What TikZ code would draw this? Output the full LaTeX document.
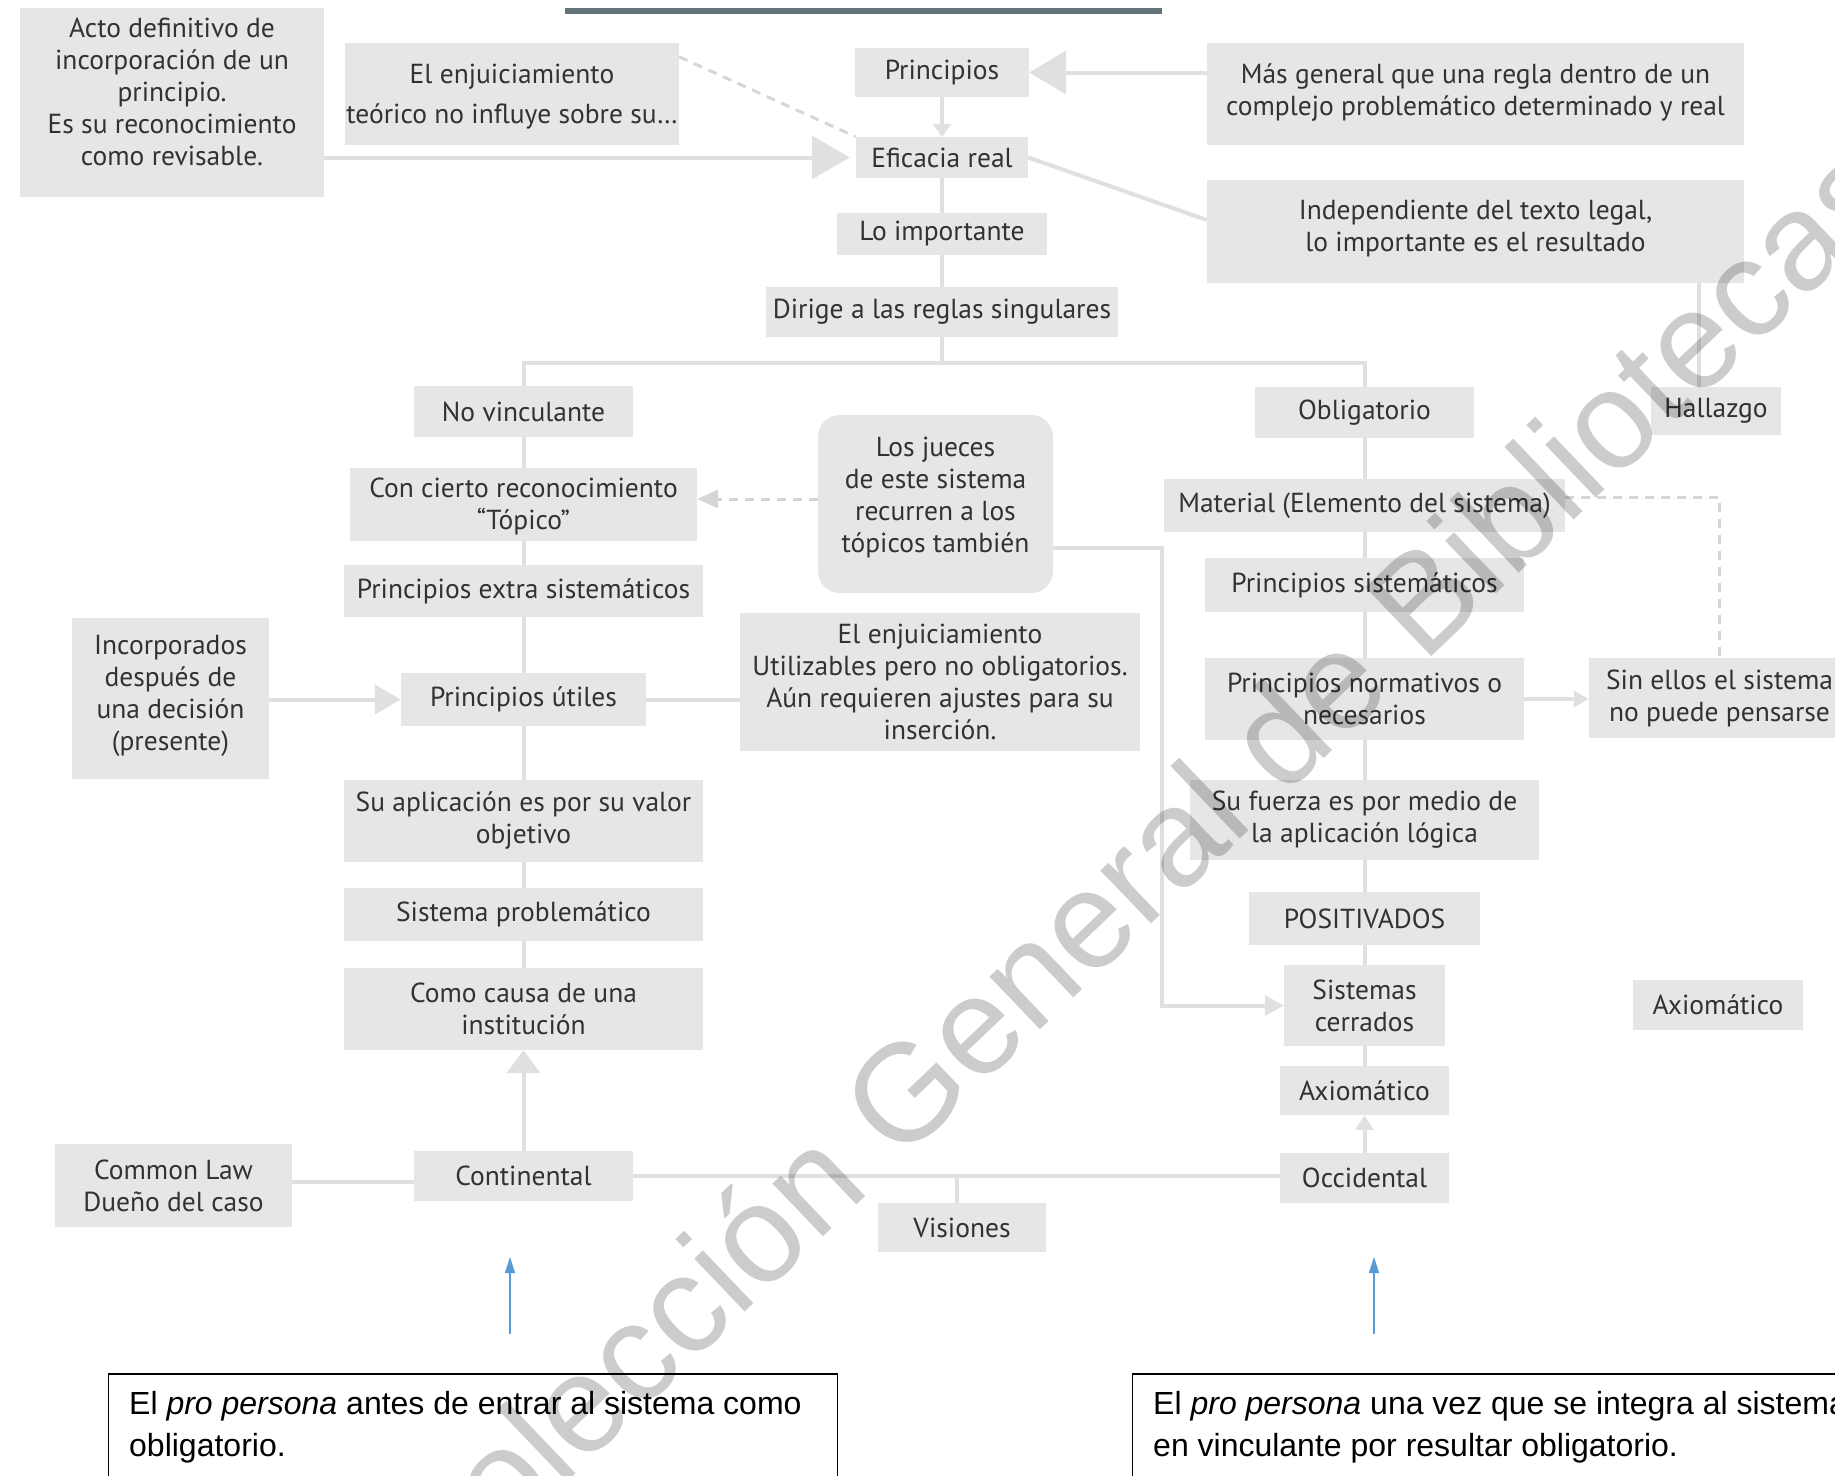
\documentclass[tikz,border=0pt]{standalone}
\usepackage{fontspec}
\setmainfont{PT Sans}
\newfontfamily\notefont{Liberation Sans}
\newfontfamily\markfont{Liberation Sans}
\usetikzlibrary{arrows.meta,calc}

\definecolor{boxgray}{RGB}{230,230,230}
\definecolor{linegray}{RGB}{224,224,224}
\definecolor{dashgray}{RGB}{214,214,214}
\definecolor{inkgray}{RGB}{50,50,50}
\definecolor{barcol}{RGB}{98,116,120}
\definecolor{bluec}{RGB}{91,155,213}

% grey concept box given by its corners, with its text (optional vertical shift)
\newcommand\mapbox[7][0]{%
  \node[gfill, minimum width={(#5-#3)*1pt}, minimum height={(#6-#4)*1pt}] (#2) at ({(#3+#5)/2},{(#4+#6)/2}) {};
  \node[gtext] (#2-t) at ({(#3+#5)/2},{(#4+#6)/2+#1}) {#7};
}

\begin{document}
\begin{tikzpicture}[x=1pt,y=-1pt,
  gfill/.style={rectangle, fill=boxgray, draw=none, inner sep=0pt},
  gtext/.style={text=inkgray, align=center, inner sep=0pt, font=\fontsize{27.5}{32}\selectfont},
  conn/.style={draw=linegray, line width=4pt},
  dconn/.style={draw=dashgray, line width=3pt, dash pattern=on 9pt off 7pt},
  bluearrow/.style={draw=bluec, line width=1.4pt, -{Triangle[length=16pt,width=10pt]}},
  notebox/.style={rectangle, draw=black, line width=1.3pt, fill=white, inner sep=0pt, anchor=north west},
  notetext/.style={text=black, align=left, inner sep=0pt, anchor=north west, font=\notefont\fontsize{32}{42}\selectfont},
  watermark/.style={text=black, text opacity=0.2, inner sep=0pt, anchor=base, rotate=43.7, font=\markfont\fontsize{138.5}{140}\selectfont}
]
\useasboundingbox (0,0) rectangle (1835,1475);
\clip (0,0) rectangle (1835,1475);
\fill[white] (0,0) rectangle (1835,1475);

% title bar
\fill[barcol] (565,8) rectangle (1162,14);

% ---- top block ----
\mapbox[-11]{acto}{20}{8}{324}{197}{Acto definitivo de\\incorporación de un\\principio.\\Es su reconocimiento\\como revisable.}
\mapbox[3]{enj}{345}{43}{679}{145}{El enjuiciamiento\\[8pt]teórico no influye sobre su…}
\mapbox{prin}{855}{48}{1029}{97}{Principios}
\mapbox{efi}{856}{137}{1028}{178}{Eficacia real}
\mapbox{imp}{837}{213}{1047}{255}{Lo importante}
\mapbox{dir}{766}{287}{1118}{337}{Dirige a las reglas singulares}
\mapbox[-1]{mas}{1207}{43}{1744}{145}{Más general que una regla dentro de un\\complejo problemático determinado y real}
\mapbox[-3]{ind}{1207}{180}{1744}{283}{Independiente del texto legal,\\lo importante es el resultado}

% ---- left column ----
\mapbox{nov}{414}{386}{633}{437}{No vinculante}
\mapbox[2]{con}{350}{468}{697}{541}{Con cierto reconocimiento\\“Tópico”}
\mapbox{ext}{344}{565}{703}{617}{Principios extra sistemáticos}
\mapbox{uti}{401}{673}{646}{726}{Principios útiles}
\mapbox[-3]{inc}{72}{618}{269}{779}{Incorporados\\después de\\una decisión\\(presente)}
\mapbox{apl}{344}{780}{703}{862}{Su aplicación es por su valor\\objetivo}
\mapbox{pro}{344}{888}{703}{941}{Sistema problemático}
\mapbox{cau}{344}{968}{703}{1050}{Como causa de una\\institución}
\mapbox{cont}{414}{1151}{633}{1201}{Continental}
\mapbox{cl}{55}{1144}{292}{1227}{Common Law\\Dueño del caso}

% ---- middle ----
\node[gfill, rounded corners=22pt, minimum width=235pt, minimum height=178pt] (jue) at (935.5,504) {};
\node[gtext] (jue-t) at (935.5,498) {Los jueces\\de este sistema\\recurren a los\\tópicos también};
\mapbox{utz}{740}{613}{1140}{751}{El enjuiciamiento\\Utilizables pero no obligatorios.\\Aún requieren ajustes para su\\inserción.}
\mapbox{vis}{878}{1203}{1046}{1252}{Visiones}

% ---- right column ----
\mapbox{obl}{1255}{387}{1474}{438}{Obligatorio}
\mapbox{hal}{1651}{387}{1781}{435}{Hallazgo}
\mapbox{mat}{1164}{479}{1565}{532}{Material (Elemento del sistema)}
\mapbox{sis}{1205}{558}{1524}{612}{Principios sistemáticos}
\mapbox{nor}{1205}{658}{1524}{740}{Principios normativos o\\necesarios}
\mapbox{sin}{1589}{658}{1850}{738}{Sin ellos el sistema\\no puede pensarse}
\mapbox{fue}{1190}{780}{1539}{860}{Su fuerza es por medio de\\la aplicación lógica}
\mapbox{pos}{1249}{892}{1480}{945}{POSITIVADOS}
\mapbox{cer}{1284}{965}{1445}{1046}{Sistemas\\cerrados}
\mapbox{axi}{1280}{1066}{1449}{1115}{Axiomático}
\mapbox{occ}{1280}{1153}{1449}{1203}{Occidental}
\mapbox{axr}{1633}{980}{1803}{1030}{Axiomático}

% ---- connectors: top ----
\draw[conn, -{Triangle[length=37pt,width=43pt]}] (mas.west |- prin.east) -- (prin.east);
\draw[conn, -{Triangle[length=13pt,width=18pt]}] (prin.south) -- (efi.north);
\draw[conn, -{Triangle[length=38pt,width=43pt]}] (acto.east |- efi.west) -- ([xshift=-6pt]efi.west);
\draw[dconn] ([yshift=-14pt]enj.north east) -- (efi.north west);
\draw[conn] (efi.east) -- ([yshift=11.5pt]ind.west);
\draw[conn] (efi.south) -- (imp.north);
\draw[conn] (imp.south) -- (dir.north);
\draw[conn] ([xshift=-17pt]hal.north) -- ([xshift=-17pt]hal.north |- ind.south);

% split into the two branches
\coordinate (split) at (942,363);
\draw[conn] (dir.south) -- (split);
\draw[conn] (nov.north) |- (split) -| (obl.north);

% ---- connectors: left column ----
\draw[conn] (nov.south) -- (con.north);
\draw[conn] (con.south) -- (ext.north);
\draw[conn] (ext.south) -- (uti.north);
\draw[conn] (uti.south) -- (apl.north);
\draw[conn] (apl.south) -- (pro.north);
\draw[conn] (pro.south) -- (cau.north);
\draw[conn, -{Triangle[length=23pt,width=33pt]}] (cont.north) -- (cau.south);
\draw[conn, -{Triangle[length=26pt,width=29pt]}] (inc.east |- uti.west) -- (uti.west);
\draw[conn] (uti.east) -- (uti.east -| utz.west);
\draw[dconn, -{Triangle[length=21pt,width=18pt]}] ([yshift=5pt]jue.west) -- ([yshift=5pt]jue.west -| con.east);

% ---- connectors: bottom ----
\draw[conn] ([yshift=3.5pt]cl.east) -- ([yshift=3.5pt]cl.east -| cont.west);
\draw[conn] (cont.east) -- (cont.east -| occ.west);
\draw[conn] ([xshift=-5pt]vis.north |- cont.east) -- ([xshift=-5pt]vis.north);

% ---- connectors: right column ----
\draw[conn] (obl.south) -- (mat.north);
\draw[conn] (mat.south) -- (sis.north);
\draw[conn] (sis.south) -- (nor.north);
\draw[conn] (nor.south) -- (fue.north);
\draw[conn] (fue.south) -- (pos.north);
\draw[conn] (pos.south) -- (cer.north);
\draw[conn] (cer.south) -- (axi.north);
\draw[conn, -{Triangle[length=15pt,width=18pt]}] (occ.north) -- (axi.south);
\draw[conn, -{Triangle[length=15pt,width=16pt]}] (nor.east) -- (nor.east -| sin.west);
\draw[dconn] ([yshift=8pt]mat.east) -| (sin.north);
\coordinate (jbend) at (1162,548);
\draw[conn, -{Triangle[length=19pt,width=20pt]}] (jue.east |- jbend) -- (jbend) |- (cer.west);

% ---- notes at the foot ----
\coordinate (b1s) at (510,1334);
\coordinate (b1e) at (510,1257);
\coordinate (b2s) at (1374,1334);
\coordinate (b2e) at (1374,1257);
\draw[bluearrow] (b1s) -- (b1e);
\draw[bluearrow] (b2s) -- (b2e);

\node[notebox, minimum width=729pt, minimum height=160pt] (nl) at (108,1374) {};
\draw[line width=2.6pt] (nl.north west) -- (nl.north east);
\node[notetext] (nl-t) at (129,1391) {El \textit{pro persona} antes de entrar al sistema como\\obligatorio.};

\node[notebox, minimum width=800pt, minimum height=160pt] (nr) at (1132,1374) {};
\draw[line width=2.6pt] (nr.north west) -- (nr.north east);
\node[notetext] (nr-t) at (1153,1391) {El \textit{pro persona} una vez que se integra al sistema\\en vinculante por resultar obligatorio.};

% ---- library mark across the sheet ----
\node[watermark] (wm) at (1170,906) {Colección General de Bibliotecas};
\end{tikzpicture}
\end{document}
